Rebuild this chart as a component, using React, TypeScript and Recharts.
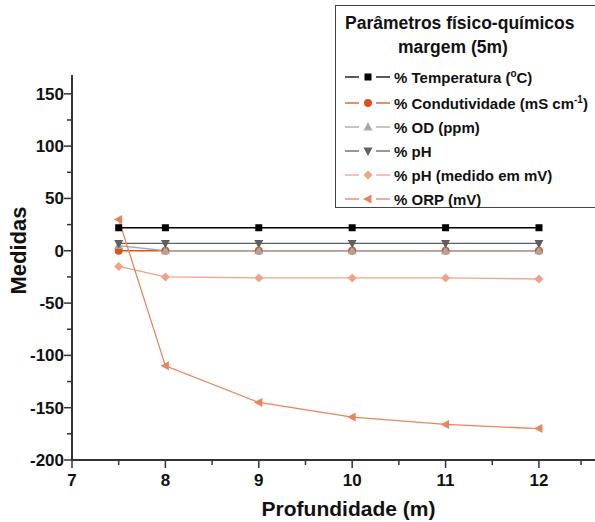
import React from 'react';
import { LineChart, Line, XAxis, YAxis, Label } from 'recharts';

const depths = [7.5, 8, 9, 10, 11, 12];
const temperatura = [22, 22, 22, 22, 22, 22];
const condutividade = [0, 0, 0, 0, 0, 0];
const od = [5, 0, 0, 0, 0, 0];
const ph = [7, 7, 7, 7, 7, 7];
const phMv = [-15, -25, -26, -26, -26, -27];
const orp = [30, -110, -145, -159, -166, -170];

const yTicks = [-200, -175, -150, -125, -100, -75, -50, -25, 0, 25, 50, 75, 100, 125, 150];
const xTicks = [7, 7.5, 8, 8.5, 9, 9.5, 10, 10.5, 11, 11.5, 12, 12.5];

const FONT = '"Liberation Sans", Arial, sans-serif';
const AXIS = '#333';

type Shape = 'square' | 'circle' | 'up' | 'down' | 'diamond' | 'left';

const series: { key: string; color: string; shape: Shape; label: React.ReactNode }[] = [
  { key: 'temperatura', color: '#000000', shape: 'square', label: <>% Temperatura (<sup style={{ fontSize: 10 }}>o</sup>C)</> },
  { key: 'condutividade', color: '#d9531e', shape: 'circle', label: <>% Condutividade (mS cm<sup style={{ fontSize: 10 }}>-1</sup>)</> },
  { key: 'od', color: '#a6a6a6', shape: 'up', label: '% OD (ppm)' },
  { key: 'ph', color: '#5f5f5f', shape: 'down', label: '% pH' },
  { key: 'phMv', color: '#f2a282', shape: 'diamond', label: '% pH (medido em mV)' },
  { key: 'orp', color: '#e8845e', shape: 'left', label: '% ORP (mV)' },
];

const data = depths.map((d, i) => ({
  depth: d,
  temperatura: temperatura[i],
  condutividade: condutividade[i],
  od: od[i],
  ph: ph[i],
  phMv: phMv[i],
  orp: orp[i],
}));

function Marker({ cx, cy, shape, color }: { cx: number; cy: number; shape: Shape; color: string }) {
  switch (shape) {
    case 'square':
      return <rect x={cx - 3.5} y={cy - 3.5} width={7} height={7} fill={color} />;
    case 'circle':
      return <circle cx={cx} cy={cy} r={4} fill={color} />;
    case 'up':
      return <polygon points={`${cx},${cy - 5} ${cx + 4.5},${cy + 3.5} ${cx - 4.5},${cy + 3.5}`} fill={color} />;
    case 'down':
      return <polygon points={`${cx},${cy + 5} ${cx + 4.5},${cy - 3.5} ${cx - 4.5},${cy - 3.5}`} fill={color} />;
    case 'diamond':
      return <polygon points={`${cx},${cy - 4.5} ${cx + 4.5},${cy} ${cx},${cy + 4.5} ${cx - 4.5},${cy}`} fill={color} />;
    default:
      return <polygon points={`${cx - 5},${cy} ${cx + 3.5},${cy - 4.5} ${cx + 3.5},${cy + 4.5}`} fill={color} />;
  }
}

const YTick = (props: any) => {
  const { x, y, payload } = props;
  const major = payload.value % 50 === 0;
  return (
    <g>
      <line x1={x - (major ? 8 : 5)} x2={x} y1={y} y2={y} stroke={AXIS} strokeWidth={1.5} />
      {major && (
        <text x={x - 8} y={y} dy={6} textAnchor="end" fontSize={17} fontWeight="bold" fontFamily={FONT} fill="#111">
          {payload.value}
        </text>
      )}
    </g>
  );
};

const XTick = (props: any) => {
  const { x, y, payload } = props;
  const major = Number.isInteger(payload.value);
  return (
    <g>
      <line x1={x} x2={x} y1={y} y2={y + (major ? 8 : 5)} stroke={AXIS} strokeWidth={1.5} />
      {major && (
        <text x={x} y={y + 26} textAnchor="middle" fontSize={17} fontWeight="bold" fontFamily={FONT} fill="#111">
          {payload.value}
        </text>
      )}
    </g>
  );
};

const LegendBox = () => (
  <div
    style={{
      position: 'absolute',
      left: 335,
      top: 5,
      border: '1.5px solid #444',
      width: 280,
      height: 203,
      boxSizing: 'border-box',
      fontFamily: FONT,
      fontWeight: 'bold',
      color: '#111',
      background: '#fff',
    }}
  >
    <div style={{ fontSize: 17.5, paddingLeft: 9, paddingTop: 5, lineHeight: '24px' }}>Parâmetros físico-químicos</div>
    <div style={{ fontSize: 17.5, paddingLeft: 62, lineHeight: '24px' }}>margem (5m)</div>
    <div style={{ marginTop: 4 }}>
      {series.map((s, i) => (
        <div key={s.key} style={{ display: 'flex', alignItems: 'center', height: i === 0 ? 28 : 24, paddingLeft: 9, fontSize: 15 }}>
          <svg width={46} height={14} style={{ marginRight: 3 }}>
            <line x1={0} x2={14} y1={7} y2={7} stroke={s.color} strokeWidth={1.3} />
            <line x1={31} x2={45} y1={7} y2={7} stroke={s.color} strokeWidth={1.3} />
            <Marker cx={23} cy={7} shape={s.shape} color={s.color} />
          </svg>
          <span>{s.label}</span>
        </div>
      ))}
    </div>
  </div>
);

export default function App() {
  return (
    <div style={{ position: 'absolute', left: 0, top: 0, width: 595, height: 522, overflow: 'hidden', background: '#fff' }}>
      <LineChart width={595} height={522} data={data} margin={{ top: 75, right: 0, left: 0, bottom: 0 }}>
        <XAxis
          dataKey="depth"
          type="number"
          domain={[7, 12.6]}
          ticks={xTicks}
          allowDataOverflow
          height={62}
          tickSize={0}
          tickMargin={0}
          tickLine={false}
          tick={<XTick />}
          axisLine={{ stroke: AXIS, strokeWidth: 2 }}
        >
          <Label value="Profundidade (m)" position="insideBottom" offset={6} dx={15} fontSize={21} fontWeight="bold" fontFamily={FONT} fill="#111" />
        </XAxis>
        <YAxis
          type="number"
          domain={[-200, 168]}
          ticks={yTicks}
          allowDataOverflow
          width={72}
          tickSize={0}
          tickMargin={0}
          tickLine={false}
          tick={<YTick />}
          axisLine={{ stroke: AXIS, strokeWidth: 2 }}
        >
          <Label value="Medidas" angle={-90} position="insideLeft" offset={18} dy={-17} textAnchor="middle" fontSize={22} fontWeight="bold" fontFamily={FONT} fill="#111" />
        </YAxis>
        {series.map((s) => (
          <Line
            key={s.key}
            dataKey={s.key}
            type="linear"
            stroke={s.color}
            strokeWidth={1.3}
            isAnimationActive={false}
            dot={(p: any) => <Marker key={`${s.key}-${p.index}`} cx={p.cx} cy={p.cy} shape={s.shape} color={s.color} />}
            activeDot={false}
          />
        ))}
      </LineChart>
      <LegendBox />
    </div>
  );
}
